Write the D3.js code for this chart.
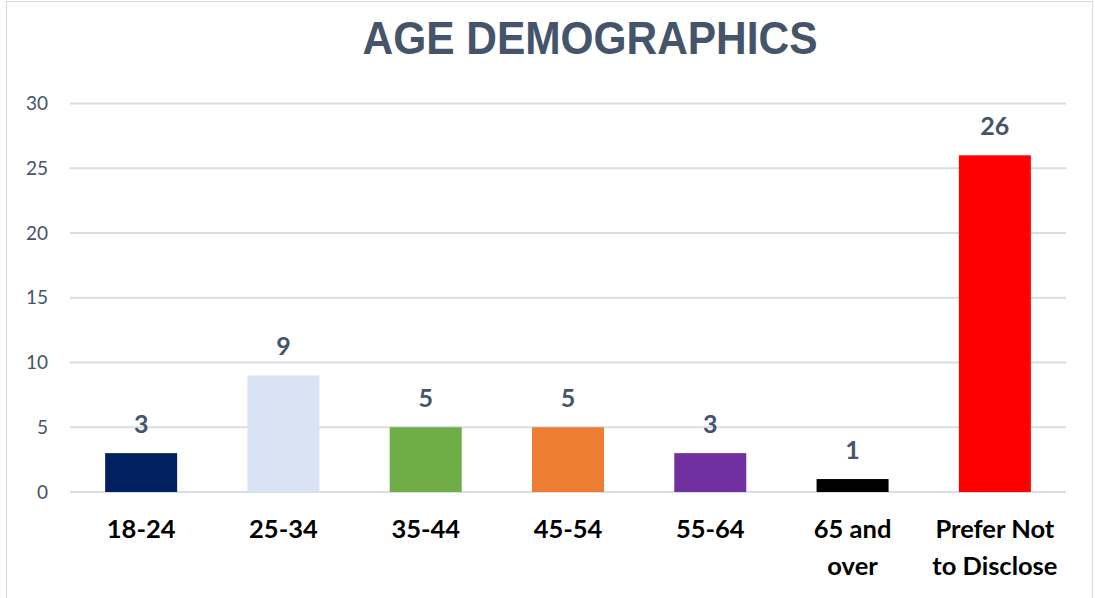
<!DOCTYPE html>
<html lang="en">
<head>
  <meta charset="UTF-8">
  <title>age demographics</title>
  <style>
    body { margin: 0; background: #fff; }
  </style>
</head>
<body>
  <script src="https://cdn.jsdelivr.net/npm/d3@7"></script>
  <script type="text/javascript">
    // 数据
    var categories = [["18-24"], ["25-34"], ["35-44"], ["45-54"], ["55-64"], ["65 and", "over"], ["Prefer Not", "to Disclose"]];
    var counts = [3, 9, 5, 5, 3, 1, 26];
    var barColors = ["#002060", "#DAE3F3", "#70AD47", "#ED7D31", "#7030A0", "#000000", "#FF0000"];
    var yTicks = [0, 5, 10, 15, 20, 25, 30];

    var width = 1095, height = 598;
    var padding = {top: 103.5, right: 29, bottom: 106, left: 70};
    var slate = "#44546A";
    var labelFont = "Lato, 'Open Sans', sans-serif";

    var svg = d3.select("body").append("svg")
      .attr("width", width)
      .attr("height", height);

    // 外框
    svg.append("rect")
      .attr("x", 6.5).attr("y", 1.5)
      .attr("width", 1086).attr("height", 620)
      .attr("fill", "none")
      .attr("stroke", "#D9D9D9");

    var x = d3.scaleBand()
      .domain(d3.range(counts.length))
      .range([padding.left, width - padding.right])
      .paddingInner(0.494)
      .paddingOuter(0.247);

    var y = d3.scaleLinear()
      .domain([0, 30])
      .range([height - padding.bottom, padding.top]);

    // 网格线
    svg.append("g").selectAll("line")
      .data(yTicks)
      .enter().append("line")
      .attr("x1", padding.left)
      .attr("x2", width - padding.right)
      .attr("y1", function(d){ return y(d); })
      .attr("y2", function(d){ return y(d); })
      .attr("stroke", "#D9DEE6")
      .attr("stroke-width", 2);

    // y轴刻度
    var yAxis = svg.append("g")
      .attr("transform", "translate(48,0)")
      .call(d3.axisLeft(y).tickValues(yTicks).tickSize(0).tickPadding(0));
    yAxis.select(".domain").remove();
    yAxis.selectAll("text")
      .attr("fill", slate)
      .attr("font-family", labelFont)
      .attr("font-size", "19px");

    // 矩形
    svg.selectAll("rect.bar")
      .data(counts)
      .enter().append("rect")
      .attr("class", "bar")
      .attr("x", function(d, i){ return x(i); })
      .attr("y", function(d){ return y(d); })
      .attr("width", x.bandwidth())
      .attr("height", function(d){ return y(0) - y(d); })
      .attr("fill", function(d, i){ return barColors[i]; });

    // 数值标签
    svg.selectAll("text.value")
      .data(counts)
      .enter().append("text")
      .attr("class", "value")
      .attr("x", function(d, i){ return x(i) + x.bandwidth() / 2; })
      .attr("y", function(d){ return y(d) - 20; })
      .attr("text-anchor", "middle")
      .attr("fill", slate)
      .attr("font-family", labelFont)
      .attr("font-weight", "bold")
      .attr("font-size", "25px")
      .text(function(d){ return d; });

    // 类别标签
    var cat = svg.selectAll("text.cat")
      .data(categories)
      .enter().append("text")
      .attr("class", "cat")
      .attr("text-anchor", "middle")
      .attr("fill", "#000")
      .attr("font-family", labelFont)
      .attr("font-weight", "bold")
      .attr("font-size", "25.5px");
    cat.selectAll("tspan")
      .data(function(d, i){ return d.map(function(t){ return {t: t, i: i}; }); })
      .enter().append("tspan")
      .attr("x", function(d){ return x(d.i) + x.bandwidth() / 2; })
      .attr("y", function(d, j){ return 538 + j * 37; })
      .text(function(d){ return d.t; });

    // 标题
    svg.append("text")
      .attr("x", 590)
      .attr("y", 54)
      .attr("text-anchor", "middle")
      .attr("fill", slate)
      .attr("font-family", "'Liberation Sans', Arial, sans-serif")
      .attr("font-weight", "bold")
      .attr("font-size", "46px")
      .attr("textLength", 455)
      .attr("lengthAdjust", "spacingAndGlyphs")
      .text("AGE DEMOGRAPHICS");
  </script>
</body>
</html>
